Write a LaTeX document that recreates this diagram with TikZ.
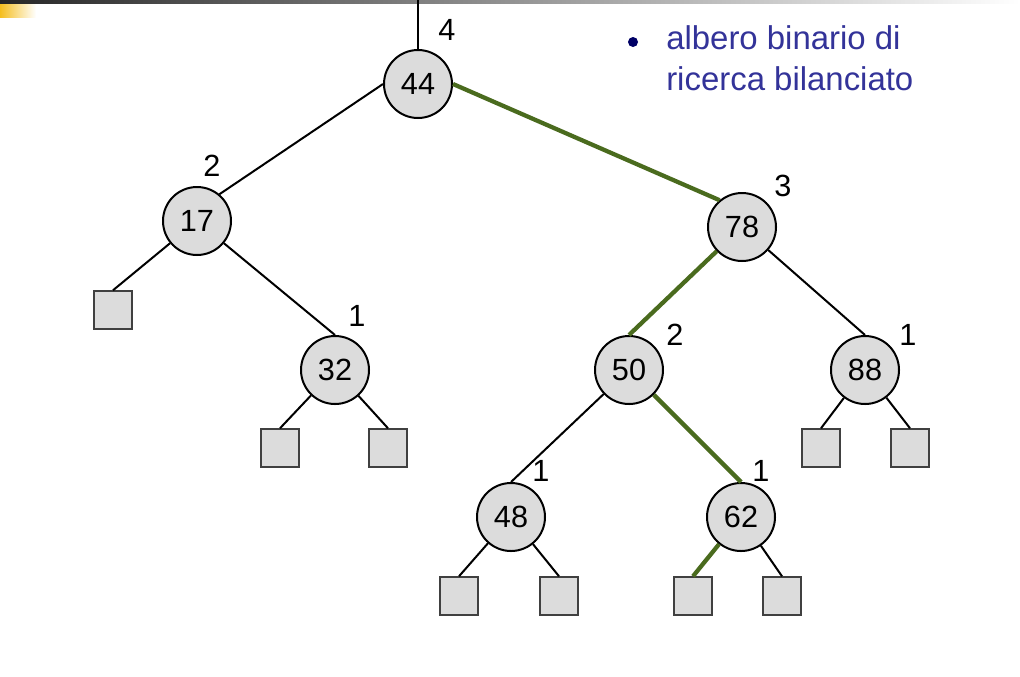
\documentclass[tikz,border=0pt]{standalone}
\usepackage{fontspec}
\setmainfont{Liberation Sans}
\definecolor{edgegreen}{HTML}{4A6B1E}
\definecolor{nodefill}{HTML}{DCDCDC}
\definecolor{textblue}{HTML}{333399}
\definecolor{bulletnavy}{HTML}{000066}
\begin{document}
\begin{tikzpicture}[x=0.75pt,y=-0.75pt,
  keynode/.style={circle,draw=black,line width=1.5pt,fill=nodefill,minimum size=51pt,inner sep=0pt,font=\fontsize{23}{26}\selectfont},
  leafbox/.style={rectangle,draw=black!75,line width=1.1pt,fill=nodefill,minimum size=28.5pt,inner sep=0pt},
  hlabel/.style={inner sep=0pt,font=\fontsize{23}{26}\selectfont},
  plainedge/.style={draw=black,line width=1.5pt},
  pathedge/.style={draw=edgegreen,line width=3.2pt}]
\useasboundingbox (0,0) rectangle (1020,676);
\fill[white] (0,0) rectangle (1020,676);
% top decoration
\shade[left color=black!85,right color=white] (0,0) rectangle (1020,3.5);
\shade[left color={rgb,255:red,245;green,190;blue,30},right color=white] (0,4) rectangle (36,17);

% nodes
\node[keynode] (n44) at (418,84) {44};
\node[keynode] (n17) at (197,221) {17};
\node[keynode] (n78) at (742,227) {78};
\node[keynode] (n32) at (335,370) {32};
\node[keynode] (n50) at (629,370) {50};
\node[keynode] (n88) at (865,370) {88};
\node[keynode] (n48) at (511,517) {48};
\node[keynode] (n62) at (741,517) {62};

\node[leafbox] (l17) at (113,310) {};
\node[leafbox] (l32a) at (280,448) {};
\node[leafbox] (l32b) at (388,448) {};
\node[leafbox] (l88a) at (821,448) {};
\node[leafbox] (l88b) at (910,448) {};
\node[leafbox] (l48a) at (459,596) {};
\node[leafbox] (l48b) at (559,596) {};
\node[leafbox] (l62a) at (693,596) {};
\node[leafbox] (l62b) at (782,596) {};

% height labels
\node[hlabel] (h44) at (447,30) {4};
\node[hlabel] (h17) at (212,166) {2};
\node[hlabel] (h78) at (783,186) {3};
\node[hlabel] (h32) at (357,316) {1};
\node[hlabel] (h50) at (675,335) {2};
\node[hlabel] (h88) at (908,335) {1};
\node[hlabel] (h48) at (541,471) {1};
\node[hlabel] (h62) at (761,471) {1};

% edges
\coordinate (top) at (418,0);
\draw[plainedge] (top) -- (n44);
\draw[plainedge] (n44.west) -- (n17.50);
\draw[pathedge] (n44.east) -- (n78.130);
\draw[plainedge] (n17) -- (l17.north);
\draw[plainedge] (n17) -- (n32.north);
\draw[plainedge] (n32) -- (l32a.north);
\draw[plainedge] (n32) -- (l32b.north);
\draw[pathedge] (n78) -- (n50.north);
\draw[plainedge] (n78) -- (n88.north);
\draw[plainedge] (n88) -- (l88a.north);
\draw[plainedge] (n88) -- (l88b.north);
\draw[plainedge] (n50) -- (n48.north);
\draw[pathedge] (n50) -- (n62.north);
\draw[plainedge] (n48) -- (l48a.north);
\draw[plainedge] (n48) -- (l48b.north);
\draw[pathedge] (n62) -- (l62a.north);
\draw[plainedge] (n62) -- (l62b.north);

% bullet text
\node[circle,fill=bulletnavy,inner sep=0pt,minimum size=7.5pt] (bullet) at (633,42) {};
\node[anchor=base west,inner sep=0pt,align=left,text=textblue,font=\fontsize{24.7}{30.75}\selectfont] (caption) at (666,90) {albero binario di\\ricerca bilanciato};
\end{tikzpicture}
\end{document}
